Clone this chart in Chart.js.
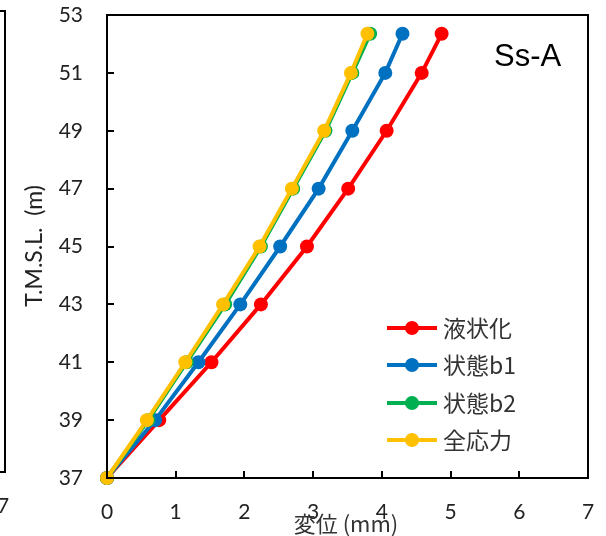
<!DOCTYPE html>
<html>
<head>
<meta charset="utf-8">
<script src="https://cdn.jsdelivr.net/npm/chart.js@4/dist/chart.umd.min.js"></script>
<style>
  html, body { margin: 0; padding: 0; background: #fff; }
  #wrap { position: relative; width: 606px; height: 536px; }
</style>
</head>
<body>
<div id="wrap"><canvas id="chart" width="606" height="536"></canvas></div>
<script>
// elevation of each node (m)
const elevations = [37, 39, 41, 43, 45, 47, 49, 51, 52.35];

// displacement (mm) per case
const liquefied = [0, 0.76, 1.52, 2.24, 2.91, 3.51, 4.07, 4.58, 4.87];
const stateB1   = [0, 0.70, 1.33, 1.94, 2.52, 3.08, 3.57, 4.05, 4.30];
const stateB2   = [0, 0.60, 1.16, 1.72, 2.24, 2.71, 3.18, 3.57, 3.83];
const totalStress = [0, 0.58, 1.14, 1.69, 2.22, 2.69, 3.16, 3.55, 3.79];

const seriesNames = ['液状化', '状態b1', '状態b2', '全応力'];
const seriesValues = [liquefied, stateB1, stateB2, totalStress];
const seriesColors = ['#FF0000', '#0070C0', '#00B050', '#FFC000'];

const xTitle = '変位 (mm)';
const yTitle = 'T.M.S.L.  (m)';
const caseLabel = 'Ss-A';

const latin = 'Lato, "Noto Sans", sans-serif';
const cjk = '"Noto Sans CJK JP", "Noto Sans", sans-serif';

const datasets = seriesValues.map((vals, i) => ({
  label: seriesNames[i],
  data: vals.map((v, k) => ({ x: v, y: elevations[k] })),
  borderColor: seriesColors[i],
  backgroundColor: seriesColors[i],
  borderWidth: 4,
  pointRadius: 7,
  pointBorderWidth: 0,
  showLine: true,
  clip: false,
  order: seriesValues.length - i,
}));

// frame, inward ticks, titles, legend and the neighbouring panel's edge
const decor = {
  id: 'decor',
  afterDraw(chart) {
    const { ctx, chartArea: a, scales } = chart;
    ctx.save();
    ctx.strokeStyle = '#000';
    ctx.lineWidth = 2;
    ctx.strokeRect(a.left, a.top, a.right - a.left, a.bottom - a.top);

    ctx.beginPath();
    scales.x.ticks.forEach((t, i) => {
      const px = Math.round(scales.x.getPixelForTick(i));
      ctx.moveTo(px, a.bottom);
      ctx.lineTo(px, a.bottom - 7);
    });
    scales.y.ticks.forEach((t, i) => {
      const py = Math.round(scales.y.getPixelForTick(i));
      ctx.moveTo(a.left, py);
      ctx.lineTo(a.left + 7, py);
    });
    ctx.stroke();

    // edge of the panel to the left
    ctx.beginPath();
    ctx.moveTo(0, 11);
    ctx.lineTo(5, 11);
    ctx.lineTo(5, 472);
    ctx.lineTo(0, 472);
    ctx.stroke();
    ctx.fillStyle = '#222';
    ctx.font = '21px ' + latin;
    ctx.textAlign = 'center';
    ctx.textBaseline = 'middle';
    ctx.fillText('7', 3, 506);

    // axis titles
    ctx.fillStyle = '#333';
    ctx.font = '22px ' + cjk;
    ctx.fillText(xTitle, 346, 524);
    ctx.save();
    ctx.translate(35, 246);
    ctx.rotate(-Math.PI / 2);
    ctx.font = '23px ' + latin;
    ctx.fillStyle = '#222';
    ctx.fillText(yTitle, 0, 0);
    ctx.restore();

    // case label
    ctx.fillStyle = '#000';
    ctx.font = '31px "Liberation Sans", Arial, sans-serif';
    ctx.textAlign = 'left';
    ctx.fillText(caseLabel, 494, 57);

    // legend
    const rows = [328, 365, 403, 440];
    seriesNames.forEach((name, i) => {
      const y = rows[i];
      ctx.strokeStyle = seriesColors[i];
      ctx.lineWidth = 4;
      ctx.beginPath();
      ctx.moveTo(387, y);
      ctx.lineTo(437, y);
      ctx.stroke();
      ctx.fillStyle = seriesColors[i];
      ctx.beginPath();
      ctx.arc(412, y, 7, 0, Math.PI * 2);
      ctx.fill();
      ctx.fillStyle = '#333';
      ctx.font = '23px ' + cjk;
      ctx.fillText(name, 443, y);
    });
    ctx.restore();
  }
};

new Chart(document.getElementById('chart'), {
  type: 'scatter',
  data: { datasets },
  options: {
    responsive: false,
    animation: false,
    layout: { padding: { left: 0, top: 15, right: 18, bottom: 0 } },
    plugins: { legend: { display: false }, tooltip: { enabled: false } },
    scales: {
      x: {
        type: 'linear',
        min: 0,
        max: 7,
        ticks: { stepSize: 1, padding: 22, color: '#222', font: { family: latin, size: 21 } },
        grid: { display: false, drawTicks: false },
        border: { display: false },
        afterFit: (s) => {
          s.height = 58;
          s.paddingLeft = 0;
          s.paddingRight = 0;
        },
      },
      y: {
        type: 'linear',
        min: 37,
        max: 53,
        ticks: { stepSize: 2, padding: 24, color: '#222', font: { family: latin, size: 21 } },
        grid: { display: false, drawTicks: false },
        border: { display: false },
        afterFit: (s) => {
          s.width = 107;
          s.paddingTop = 0;
          s.paddingBottom = 0;
        },
      },
    },
  },
  plugins: [decor],
});
</script>
</body>
</html>
